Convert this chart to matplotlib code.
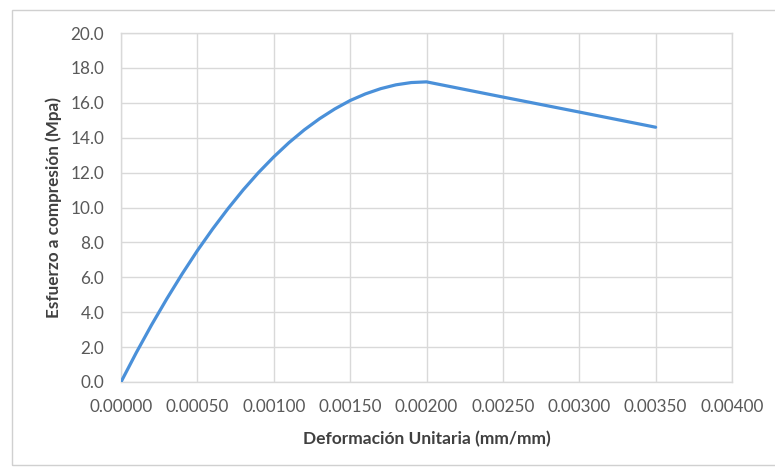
import matplotlib
matplotlib.use("Agg")
import matplotlib.pyplot as plt
from matplotlib.patches import Rectangle

strain = [0.0, 0.0001, 0.0002, 0.0003, 0.0004, 0.0005, 0.0006, 0.0007, 0.0008,
          0.0009, 0.0010, 0.0011, 0.0012, 0.0013, 0.0014, 0.0015, 0.0016,
          0.0017, 0.0018, 0.0019, 0.0020, 0.0025, 0.0030, 0.0035]
stress = [0.0, 1.68, 3.27, 4.77, 6.19, 7.53, 8.77, 9.93, 11.01,
          12.00, 12.90, 13.72, 14.45, 15.09, 15.65, 16.13, 16.51,
          16.81, 17.03, 17.16, 17.20, 16.33, 15.47, 14.60]

x_ticks = [0.0, 0.0005, 0.0010, 0.0015, 0.0020, 0.0025, 0.0030, 0.0035, 0.0040]
y_ticks = [0, 2, 4, 6, 8, 10, 12, 14, 16, 18, 20]

plt.rcParams['font.family'] = ['Lato', 'DejaVu Sans']

fig = plt.figure(figsize=(7.75, 4.67), dpi=100)
fig.patch.set_facecolor('white')
fig.patches.append(Rectangle((12/775, 2/467), 1.0, (467-10-2)/467, transform=fig.transFigure,
                             fill=False, edgecolor='#d0d0d0', linewidth=1.0))

ax = fig.add_axes([121/775, (467-382)/467, (732-121)/775, (382-33)/467])
ax.plot(strain, stress, color='#4A90D9', linewidth=2.3, solid_capstyle='round', zorder=3)

ax.set_xlim(0, 0.004)
ax.set_ylim(0, 20)
ax.set_xticks(x_ticks)
ax.set_yticks(y_ticks)
ax.set_xticklabels([f"{v:.5f}" for v in x_ticks])
ax.set_yticklabels([f"{v:.1f}" for v in y_ticks])
ax.grid(True, color='#d9d9d9', linewidth=1.0)
ax.set_axisbelow(True)
for s in ax.spines.values():
    s.set_color('#d9d9d9')
    s.set_linewidth(1.0)
ax.tick_params(axis='both', length=0, labelsize=12.3, labelcolor='#595959')
ax.tick_params(axis='x', pad=12)
ax.tick_params(axis='y', pad=12)

ax.set_xlabel('Deformación Unitaria (mm/mm)', fontsize=12.5, fontweight='bold', color='#404040', labelpad=12)
ax.set_ylabel('Esfuerzo a compresión (Mpa)', fontsize=12.3, fontweight='bold', color='#404040', labelpad=6)

fig.savefig('out.png', dpi=100)
